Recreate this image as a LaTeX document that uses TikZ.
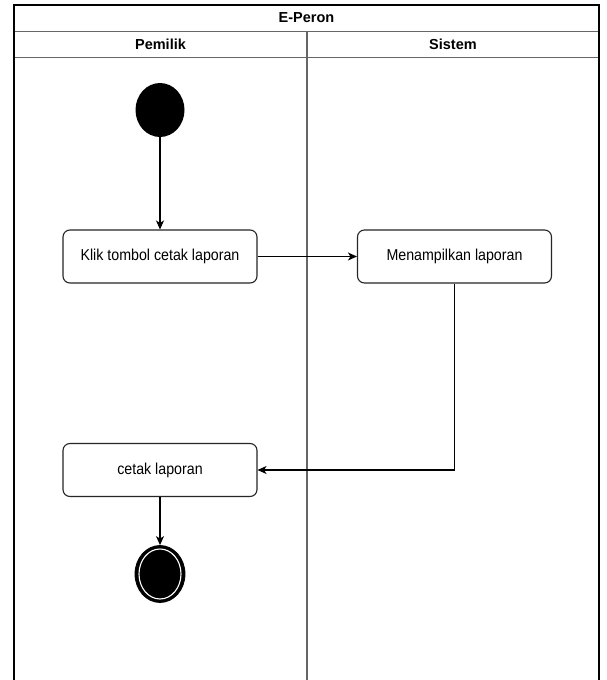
\documentclass[tikz,border=0pt]{standalone}
\usepackage{fontspec}
\setmainfont{Liberation Sans}
\newfontfamily\bodyfont[FakeStretch=0.9]{Liberation Sans}
\usetikzlibrary{shapes.geometric,arrows.meta}
\tikzset{
  actbox/.style={draw=black!85, line width=1.1pt, rounded corners=7pt, minimum width=194pt, minimum height=53pt, inner sep=0pt, font=\bodyfont\fontsize{15.8}{18}\selectfont, fill=white},
  startnode/.style={ellipse, fill=black, draw=none, minimum width=49pt, minimum height=54pt, inner sep=0pt},
  endnode/.style={ellipse, fill=black, draw=black, line width=0.8pt, minimum width=50pt, minimum height=57pt, inner sep=0pt},
  flow/.style={line width=1.1pt, -{Stealth[length=9pt,width=8pt,inset=2.5pt]}},
  lanetitle/.style={font=\bfseries\fontsize{14.5}{16}\selectfont, inner sep=0pt},
  border/.style={line width=1.2pt, black},
  inner/.style={line width=1.2pt, black!60},
}
\begin{document}
\begin{tikzpicture}[x=1pt,y=-1pt]
\useasboundingbox (0,0) rectangle (607,680);
\fill[white] (0,0) rectangle (607,680);
% swimlane frame
\draw[inner] (14,31.5) -- (599,31.5);
\draw[inner] (14,57.5) -- (599,57.5);
\draw[inner] (307,31.5) -- (307,682);
\draw[border] (14,682) -- (14,5) -- (599,5) -- (599,682);
\node[lanetitle] (title) at (306.5,18) {E-Peron};
\node[lanetitle] (lane1) at (160.5,44.5) {Pemilik};
\node[lanetitle] (lane2) at (453,44.5) {Sistem};
% nodes
\node[startnode] (start) at (160,110) {};
\node[actbox] (box1) at (160,256.5) {Klik tombol cetak laporan};
\node[actbox] (box2) at (454.5,256.5) {Menampilkan laporan};
\node[actbox] (box3) at (160,470) {cetak laporan};
\node[endnode] (end) at (160,574) {};
\draw[white, line width=1.1pt] (end.center) ellipse [x radius=21pt, y radius=25pt];
% connectors
\draw[flow] (start.south) -- (box1.north);
\draw[flow] (box1.east) -- (box2.west);
\draw[flow] (box2.south) |- (box3.east);
\draw[flow] (box3.south) -- (end.north);
\end{tikzpicture}
\end{document}
